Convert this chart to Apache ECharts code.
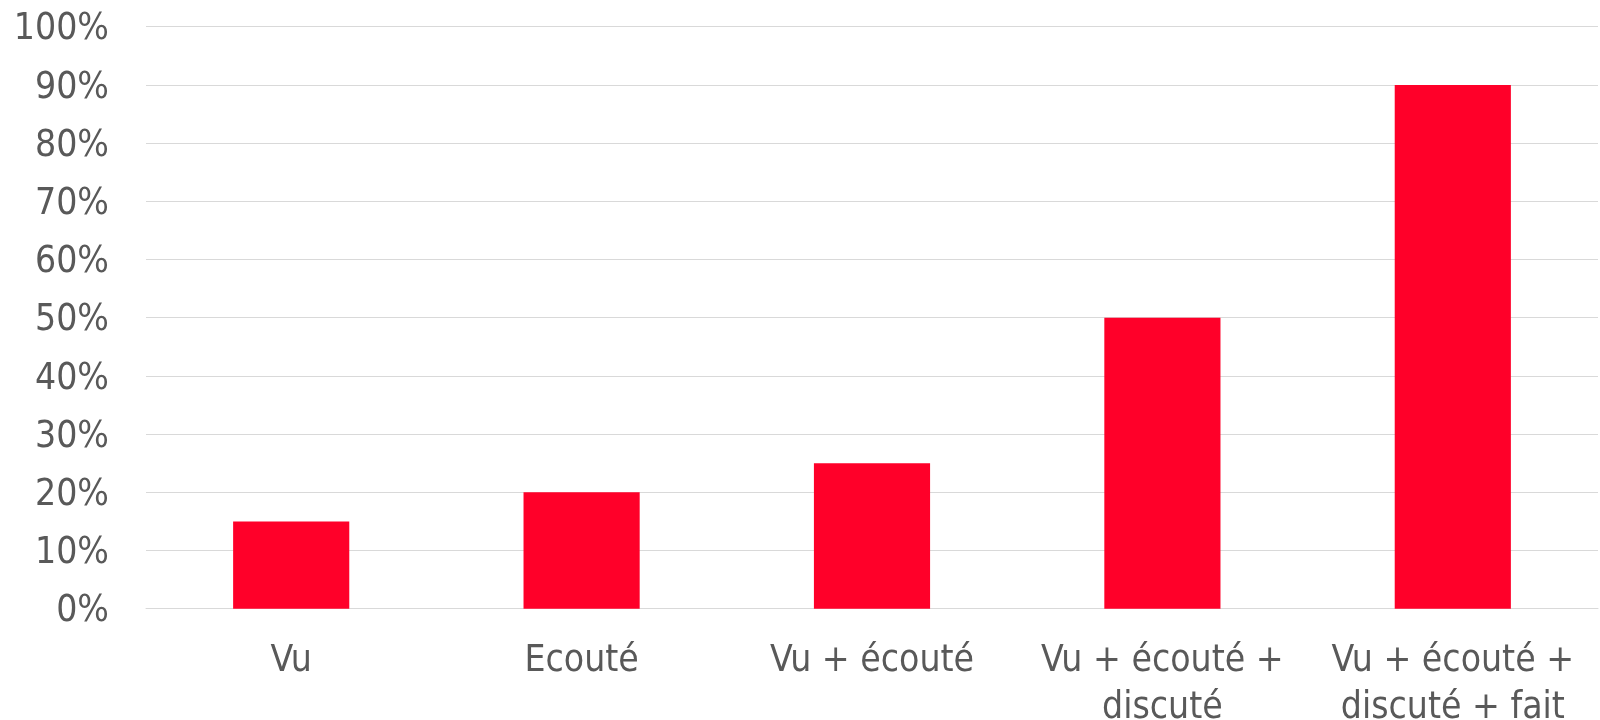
<!DOCTYPE html>
<html>
<head>
<meta charset="utf-8">
<script src="https://cdn.jsdelivr.net/npm/echarts@6/dist/echarts.min.js"></script>
<style>
html,body{margin:0;padding:0;background:#fff;}
#c{width:1600px;height:720px;}
</style>
</head>
<body>
<div id="c"></div>
<script>
const categories = ['Vu', 'Ecouté', 'Vu + écouté', 'Vu + écouté +\ndiscuté', 'Vu + écouté +\ndiscuté + fait'];
const values = [0.15, 0.20, 0.25, 0.50, 0.90];
const yTicks = { min: 0, max: 1, interval: 0.1 };

const FONT = '"DejaVu Sans Condensed", "DejaVu Sans", sans-serif';
const chart = echarts.init(document.getElementById('c'), null, { renderer: 'canvas' });
chart.setOption({
  animation: false,
  backgroundColor: '#ffffff',
  grid: { left: 146, right: 2, top: 26.7, bottom: 111.3, containLabel: false, outerBoundsMode: 'none' },
  xAxis: {
    type: 'category',
    data: categories,
    axisLine: { show: true, lineStyle: { color: '#D9D9D9', width: 1 } },
    axisTick: { show: false },
    axisLabel: {
      color: '#595959', fontFamily: FONT, fontSize: 37, lineHeight: 47,
      margin: 29, interval: 0
    }
  },
  yAxis: {
    type: 'value',
    min: yTicks.min, max: yTicks.max, interval: yTicks.interval,
    axisLine: { show: false },
    axisTick: { show: false },
    splitLine: { show: true, lineStyle: { color: '#D9D9D9', width: 1 } },
    axisLabel: {
      color: '#595959', fontFamily: FONT, fontSize: 37, margin: 37,
      formatter: v => '{a|' + Math.round(v * 100) + '%}',
      rich: { a: { color: '#595959', fontFamily: FONT, fontSize: 37, padding: [6, 0, 0, 0] } }
    }
  },
  series: [{
    type: 'bar',
    data: values,
    barWidth: '40%',
    itemStyle: { color: '#FF0029' }
  }]
});
</script>
</body>
</html>
